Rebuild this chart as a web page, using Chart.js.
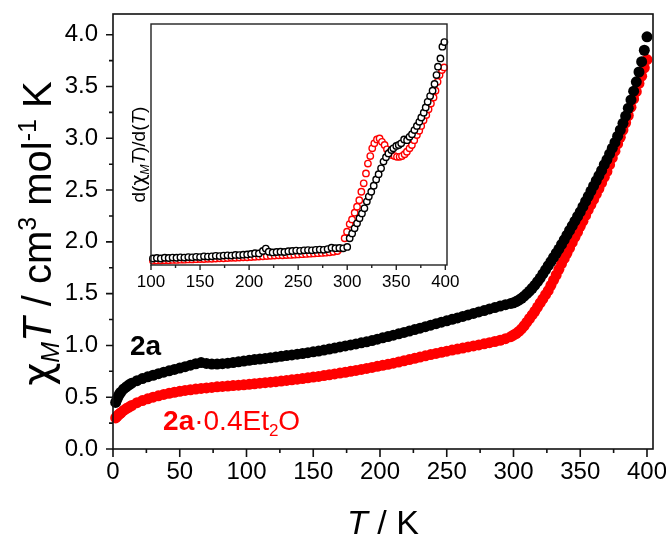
<!DOCTYPE html>
<html><head><meta charset="utf-8">
<script src="https://cdn.jsdelivr.net/npm/chart.js@4.4.1/dist/chart.umd.min.js"></script>
<style>
html,body{margin:0;padding:0;background:#fff;}
#wrap{position:relative;width:666px;height:538px;background:#fff;}
canvas{position:absolute;left:0;top:0;}
</style></head><body>
<div id="wrap"><canvas id="main" width="666" height="538"></canvas><canvas id="inset" width="666" height="538"></canvas></div>
<script>
// ---------- data ----------
const T_MAIN = [2,3,4,5,6,8,10,12,14,18,22,26,30,34,38,42,46,50,54,58,62,66,70,74,78,82,86,90,94,98,
 102,106,110,114,118,122,126,130,134,138,142,146,150,154,158,162,166,170,174,178,182,186,190,194,198,
 202,206,210,214,218,222,226,230,234,238,242,246,250,254,258,262,266,270,274,278,282,286,290,294,298,
 300,302,304,306,308,310,312,314,316,318,320,322,324,326,328,330,332,334,336,338,340,342,344,346,348,
 350,352,354,356,358,360,362,364,366,368,370,372,374,376,378,380,382,384,386,388,390,392,394,396,398,400];
const CHI_2A = [0.45,0.48,0.51,0.535,0.55,0.58,0.60,0.62,0.635,0.66,0.68,0.697,0.712,0.727,0.742,0.755,0.768,0.781,0.795,0.809,0.823,0.834,0.826,0.82,0.82,0.824,0.829,0.835,0.842,0.849,
 0.856,0.863,0.869,0.875,0.881,0.888,0.895,0.902,0.908,0.915,0.922,0.93,0.938,0.946,0.955,0.965,0.975,0.985,0.995,1.005,1.015,1.025,1.035,1.047,1.06,
 1.073,1.086,1.099,1.112,1.125,1.139,1.153,1.167,1.181,1.195,1.21,1.224,1.238,1.252,1.266,1.28,1.295,1.309,1.323,1.337,1.352,1.366,1.38,1.393,1.405,
 1.412,1.424,1.438,1.455,1.475,1.5,1.525,1.552,1.582,1.615,1.65,1.69,1.73,1.77,1.81,1.85,1.89,1.93,1.975,2.02,2.065,2.11,2.155,2.20,2.245,
 2.29,2.34,2.39,2.44,2.49,2.54,2.59,2.64,2.69,2.745,2.795,2.85,2.905,2.96,3.02,3.08,3.145,3.215,3.29,3.37,3.455,3.545,3.64,3.74,3.85,3.98];
const CHI_2A_ET2O = [0.30,0.315,0.33,0.34,0.35,0.372,0.39,0.405,0.42,0.447,0.468,0.485,0.50,0.514,0.527,0.538,0.548,0.557,0.565,0.572,0.579,0.585,0.59,0.595,0.6,0.604,0.608,0.612,0.616,0.62,
 0.625,0.63,0.635,0.64,0.645,0.65,0.656,0.662,0.668,0.674,0.68,0.687,0.694,0.701,0.709,0.717,0.725,0.733,0.741,0.75,0.759,0.768,0.778,0.788,0.798,
 0.808,0.818,0.829,0.84,0.852,0.864,0.876,0.888,0.9,0.912,0.923,0.934,0.945,0.955,0.965,0.975,0.985,0.995,1.005,1.016,1.027,1.038,1.05,1.065,1.085,
 1.10,1.115,1.135,1.16,1.19,1.225,1.26,1.295,1.33,1.37,1.41,1.45,1.49,1.53,1.58,1.63,1.68,1.735,1.79,1.84,1.89,1.94,1.995,2.045,2.095,
 2.15,2.2,2.255,2.31,2.36,2.41,2.46,2.515,2.57,2.625,2.68,2.745,2.81,2.875,2.945,3.01,3.08,3.15,3.22,3.30,3.38,3.45,3.53,3.60,3.68,3.76];
const X_TICKS = [0,50,100,150,200,250,300,350,400];
const Y_TICKS = [0,0.5,1.0,1.5,2.0,2.5,3.0,3.5,4.0];

// inset: d(chiT)/dT, arbitrary units
const T_IN_2A = [102,106,110,114,118,122,126,130,134,138,142,146,150,154,158,162,166,170,174,178,182,186,190,194,198,202,206,210,214,217,220,
 224,228,232,236,240,244,248,252,256,260,264,268,272,276,280,284,288,292,296,
 300,302.5,305,307.5,310,312.5,315,317.5,320,322,324.5,327,329.5,332,334.5,337,339.5,342,345,347,350,352.5,355,358,361,363.5,366,368.5,371,373.5,375.5,378,380,382,384.5,387,389,391,392.5,395,397,399];
const D_2A = [0.027,0.029,0.027,0.030,0.029,0.031,0.030,0.032,0.031,0.033,0.032,0.034,0.033,0.036,0.035,0.036,0.038,0.037,0.039,0.040,0.039,0.042,0.041,0.043,0.044,0.046,0.049,0.048,0.058,0.068,0.055,
 0.052,0.054,0.055,0.054,0.057,0.058,0.060,0.059,0.061,0.062,0.061,0.063,0.064,0.063,0.066,0.072,0.070,0.071,0.069,
 0.075,0.111,0.131,0.152,0.173,0.194,0.214,0.235,0.263,0.284,0.304,0.329,0.355,0.377,0.401,0.429,0.447,0.463,0.477,0.484,0.494,0.498,0.505,0.521,0.518,0.532,0.543,0.560,0.577,0.594,0.612,0.632,0.654,0.677,0.701,0.723,0.751,0.788,0.823,0.857,0.906,0.925];
const T_IN_ET2O = [102,106,110,114,118,122,126,130,134,138,142,146,150,154,158,162,166,170,174,178,182,186,190,194,198,202,206,210,214,218,222,226,230,234,238,242,246,250,254,258,262,266,270,274,278,282,286,290,293,
 297.4,299.8,302.5,304.9,307.6,310,312.3,314.4,316.8,319.1,321.1,323.5,325.5,327.6,330.3,333,335.4,338.1,340.5,343.2,345.6,348.3,350.7,353.4,355.8,358.5,360.8,363.5,365.9,368.3,371,373.4,375.4,377.8,380.6,382.9,385.3,388,390,392.1,394.1,396.5,398.8];
const D_ET2O = [0.018,0.019,0.019,0.020,0.020,0.021,0.021,0.022,0.022,0.023,0.023,0.024,0.025,0.025,0.026,0.026,0.027,0.028,0.028,0.029,0.030,0.030,0.031,0.032,0.032,0.033,0.034,0.035,0.036,0.037,0.038,0.039,0.040,0.040,0.041,0.042,0.043,0.044,0.045,0.046,0.047,0.048,0.049,0.050,0.051,0.053,0.055,0.058,0.068,
 0.111,0.138,0.170,0.189,0.217,0.242,0.269,0.304,0.339,0.380,0.421,0.452,0.484,0.505,0.521,0.525,0.511,0.498,0.480,0.466,0.456,0.452,0.449,0.449,0.452,0.460,0.470,0.484,0.498,0.518,0.539,0.557,0.577,0.601,0.622,0.646,0.670,0.695,0.723,0.760,0.788,0.809,0.820];
const INSET_TICKS = [100,150,200,250,300,350,400];

// ---------- helpers ----------
const FAM = "'Liberation Sans', Arial, Helvetica, sans-serif";
const GREEK = "'DejaVu Sans', 'Liberation Sans', sans-serif";
const pts = (xs, ys) => xs.map((x, i) => ({x: x, y: ys[i]}));
const mids = a => a.slice(1).map((v, i) => (v + a[i]) / 2);
function fnt(s){ return (s.i ? 'italic ' : '') + (s.b ? 'bold ' : '') + s.s + 'px ' + (s.f || FAM); }
function rich(ctx, segs, x, y, align){
  let w = 0;
  segs.forEach(s => { ctx.font = fnt(s); s.w = ctx.measureText(s.t).width; w += s.w; });
  let cx = align === 'center' ? x - w / 2 : x;
  ctx.textBaseline = 'alphabetic'; ctx.textAlign = 'left';
  segs.forEach(s => { ctx.font = fnt(s); ctx.fillText(s.t, cx, y + (s.dy || 0)); cx += s.w; });
}
function seg(t, s, o){ return Object.assign({t: t, s: s}, o || {}); }
function noPadX(s, h){ s.height = h; s.paddingLeft = 0; s.paddingRight = 0; }
function noPadY(s, w){ s.width = w; s.paddingTop = 0; s.paddingBottom = 0; }

// ---------- main chart ----------
const mainDeco = {
  id: 'mainDeco',
  afterDraw(chart){
    const {ctx, chartArea: a, scales: {x, y}} = chart;
    ctx.save();
    ctx.strokeStyle = '#111'; ctx.lineWidth = 1.6;
    ctx.strokeRect(a.left, a.top, a.right - a.left, a.bottom - a.top);
    ctx.beginPath();
    X_TICKS.forEach(v => { const p = x.getPixelForValue(v); ctx.moveTo(p, a.bottom); ctx.lineTo(p, a.bottom + 8); });
    mids(X_TICKS).forEach(v => { const p = x.getPixelForValue(v); ctx.moveTo(p, a.bottom); ctx.lineTo(p, a.bottom + 4); });
    Y_TICKS.forEach(v => { const p = y.getPixelForValue(v); ctx.moveTo(a.left, p); ctx.lineTo(a.left - 7, p); });
    mids(Y_TICKS).forEach(v => { const p = y.getPixelForValue(v); ctx.moveTo(a.left, p); ctx.lineTo(a.left - 4, p); });
    ctx.stroke();

    // axis titles
    ctx.fillStyle = '#000';
    const S = 34;
    rich(ctx, [seg('T', S, {i: true}), seg(' / K', S)], (a.left + a.right) / 2, 534, 'center');
    const Q = 40;
    ctx.save();
    ctx.translate(51, (a.top + a.bottom) / 2 + 2);
    ctx.rotate(-Math.PI / 2);
    rich(ctx, [seg('\u03C7', Q, {f: GREEK}), seg('M', Math.round(Q * 0.62), {i: true, dy: Q * 0.2}), seg('T', Q, {i: true}),
               seg(' / cm', Q), seg('3', Math.round(Q * 0.62), {dy: -Q * 0.38}), seg(' mol', Q),
               seg('-1', Math.round(Q * 0.62), {dy: -Q * 0.38}), seg(' K', Q)], 0, 0, 'center');
    ctx.restore();

    // series labels, anchored in data coordinates
    const L = 28;
    ctx.fillStyle = '#000';
    rich(ctx, [seg('2a', L, {b: true})], x.getPixelForValue(12.7), y.getPixelForValue(0.908), 'left');
    ctx.fillStyle = '#ff0000';
    rich(ctx, [seg('2a', L, {b: true}), seg('\u00B70.4Et', L), seg('2', Math.round(L * 0.62), {dy: L * 0.22}), seg('O', L)],
         x.getPixelForValue(37.5), y.getPixelForValue(0.184), 'left');
    ctx.restore();
  }
};

new Chart(document.getElementById('main'), {
  type: 'scatter',
  data: {datasets: [
    {label: '2a', data: pts(T_MAIN, CHI_2A), pointRadius: 5.5, pointBackgroundColor: '#000', pointBorderColor: '#000', pointBorderWidth: 0, showLine: false, clip: false},
    {label: '2a·0.4Et2O', data: pts(T_MAIN, CHI_2A_ET2O), pointRadius: 5.5, pointBackgroundColor: '#ff0000', pointBorderColor: '#ff0000', pointBorderWidth: 0, showLine: false, clip: false}
  ]},
  options: {
    responsive: false, animation: false, events: [],
    layout: {padding: {left: 0, right: 13, top: 14, bottom: 0}},
    plugins: {legend: {display: false}, tooltip: {enabled: false}},
    scales: {
      x: {type: 'linear', min: 0, max: 404.5,
          afterBuildTicks: s => { s.ticks = X_TICKS.map(v => ({value: v})); },
          afterFit: s => noPadX(s, 89),
          grid: {display: false, drawTicks: false, tickLength: 0}, border: {display: false},
          ticks: {padding: 9, color: '#000', font: {family: FAM, size: 24}, maxRotation: 0, autoSkip: false, callback: v => String(v)}},
      y: {type: 'linear', min: 0, max: 4.2,
          afterBuildTicks: s => { s.ticks = Y_TICKS.map(v => ({value: v})); },
          afterFit: s => noPadY(s, 113),
          grid: {display: false, drawTicks: false, tickLength: 0}, border: {display: false},
          ticks: {padding: 15, color: '#000', font: {family: FAM, size: 24}, autoSkip: false, callback: v => Number(v).toFixed(1)}}
    }
  },
  plugins: [mainDeco]
});

// ---------- inset chart ----------
const insetDeco = {
  id: 'insetDeco',
  beforeDraw(chart){
    const {ctx, chartArea: a} = chart;
    ctx.save(); ctx.fillStyle = '#fff'; ctx.fillRect(a.left, a.top, a.right - a.left, a.bottom - a.top); ctx.restore();
  },
  afterDraw(chart){
    const {ctx, chartArea: a, scales: {x}} = chart;
    ctx.save();
    ctx.strokeStyle = '#222'; ctx.lineWidth = 1.4;
    ctx.strokeRect(a.left, a.top, a.right - a.left, a.bottom - a.top);
    ctx.beginPath();
    INSET_TICKS.forEach(v => { const p = x.getPixelForValue(v); ctx.moveTo(p, a.bottom); ctx.lineTo(p, a.bottom + 5); });
    mids(INSET_TICKS).forEach(v => { const p = x.getPixelForValue(v); ctx.moveTo(p, a.bottom); ctx.lineTo(p, a.bottom + 3); });
    ctx.stroke();
    ctx.fillStyle = '#000';
    const S = 19;
    ctx.translate(a.left - 6, (a.top + a.bottom) / 2 + 10);
    ctx.rotate(-Math.PI / 2);
    rich(ctx, [seg('d(', S), seg('\u03C7', S, {f: GREEK}), seg('M', Math.round(S * 0.65), {i: true, dy: S * 0.2}), seg('T', S, {i: true}),
               seg(')/d(', S), seg('T', S, {i: true}), seg(')', S)], 0, 0, 'center');
    ctx.restore();
  }
};

new Chart(document.getElementById('inset'), {
  type: 'scatter',
  data: {datasets: [
    {label: '2a', data: pts(T_IN_2A, D_2A), pointRadius: 3.2, pointBorderWidth: 1.4, pointBorderColor: '#000', pointBackgroundColor: '#fff', showLine: false, clip: false},
    {label: '2a·0.4Et2O', data: pts(T_IN_ET2O, D_ET2O), pointRadius: 3.2, pointBorderWidth: 1.4, pointBorderColor: '#ff0000', pointBackgroundColor: '#fff', showLine: false, clip: false}
  ]},
  options: {
    responsive: false, animation: false, events: [],
    layout: {padding: {left: 151, right: 219, top: 24, bottom: 0}},
    plugins: {legend: {display: false}, tooltip: {enabled: false}},
    scales: {
      x: {type: 'linear', min: 100, max: 401.7,
          afterBuildTicks: s => { s.ticks = INSET_TICKS.map(v => ({value: v})); },
          afterFit: s => noPadX(s, 273),
          grid: {display: false, drawTicks: false, tickLength: 0}, border: {display: false},
          ticks: {padding: 7, color: '#000', font: {family: FAM, size: 17}, maxRotation: 0, autoSkip: false, callback: v => String(v)}},
      y: {type: 'linear', min: 0, max: 1,
          afterFit: s => noPadY(s, 0),
          grid: {display: false, drawTicks: false, tickLength: 0}, border: {display: false},
          ticks: {display: false}}
    }
  },
  plugins: [insetDeco]
});
</script>
</body></html>
